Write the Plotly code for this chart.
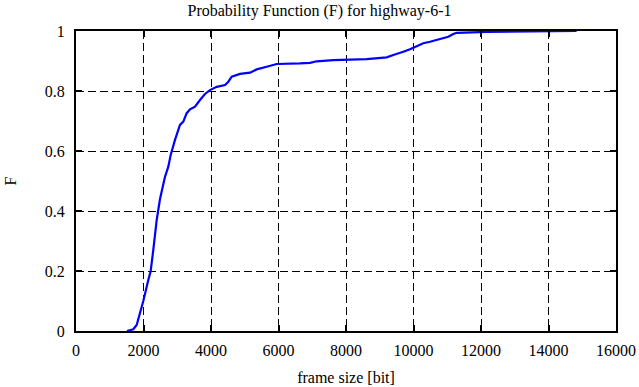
import plotly.graph_objects as go

# CDF of frame size
frame_size = [1511, 1698, 1798, 1896, 1994, 2142, 2213, 2290, 2391, 2489, 2637, 2735,
              2806, 2933, 3081, 3179, 3280, 3378, 3526, 3674, 3822, 3970, 4169, 4415,
              4513, 4614, 4859, 5156, 5354, 5650, 5946, 6637, 6933, 7131, 7624, 8612,
              8908, 9204, 9402, 9600, 9698, 9896, 10094, 10290, 10489, 10785, 11031,
              11179, 11280, 12168, 13452, 14835]
F = [0.0, 0.006, 0.02, 0.06, 0.10, 0.17, 0.20, 0.27, 0.37, 0.44, 0.514, 0.548,
     0.587, 0.637, 0.687, 0.698, 0.726, 0.739, 0.748, 0.77, 0.79, 0.803, 0.814, 0.82,
     0.831, 0.848, 0.857, 0.861, 0.872, 0.881, 0.89, 0.892, 0.894, 0.899, 0.903, 0.906,
     0.909, 0.912, 0.92, 0.926, 0.931, 0.939, 0.95, 0.959, 0.964, 0.972, 0.981,
     0.99, 0.994, 0.997, 0.998, 1.0]

x_ticks = [0, 2000, 4000, 6000, 8000, 10000, 12000, 14000, 16000]
y_ticks = [0, 0.2, 0.4, 0.6, 0.8, 1]
y_tick_labels = ["0", "0.2", "0.4", "0.6", "0.8", "1"]

font_family = "Liberation Serif, Times New Roman, serif"

fig = go.Figure()
fig.add_trace(go.Scatter(x=frame_size, y=F, mode="lines",
                         line=dict(color="#0000ff", width=2.2),
                         showlegend=False, hoverinfo="skip"))

axis_common = dict(showline=True, linecolor="black", linewidth=2, mirror="allticks",
                   ticks="inside", ticklen=6, tickwidth=1.5, tickcolor="black",
                   showgrid=True, gridcolor="black", gridwidth=1, griddash="8px,4px",
                   zeroline=False, automargin=False,
                   tickfont=dict(family=font_family, size=16, color="black"))

fig.update_layout(
    width=639, height=387,
    margin=dict(l=76, r=23, t=31, b=56),
    paper_bgcolor="white", plot_bgcolor="white",
    title=dict(text="Probability Function (F) for highway-6-1", x=0.5, xanchor="center",
               y=1 - 10 / 387, yanchor="middle", automargin=False,
               font=dict(family=font_family, size=16, color="black")),
    xaxis=dict(range=[0, 16000], tickvals=x_ticks, ticktext=[str(v) for v in x_ticks],
               ticklabelstandoff=4,
               title=dict(text="frame size [bit]", standoff=14,
                          font=dict(family=font_family, size=16, color="black")),
               **axis_common),
    yaxis=dict(range=[0, 1], tickvals=y_ticks, ticktext=y_tick_labels,
               ticklabelstandoff=6,
               title=dict(text="F", standoff=24,
                          font=dict(family=font_family, size=16, color="black")),
               **axis_common),
)

fig.write_html("out.html", config={"displayModeBar": False},
               post_script="document.body.style.margin='0';")
